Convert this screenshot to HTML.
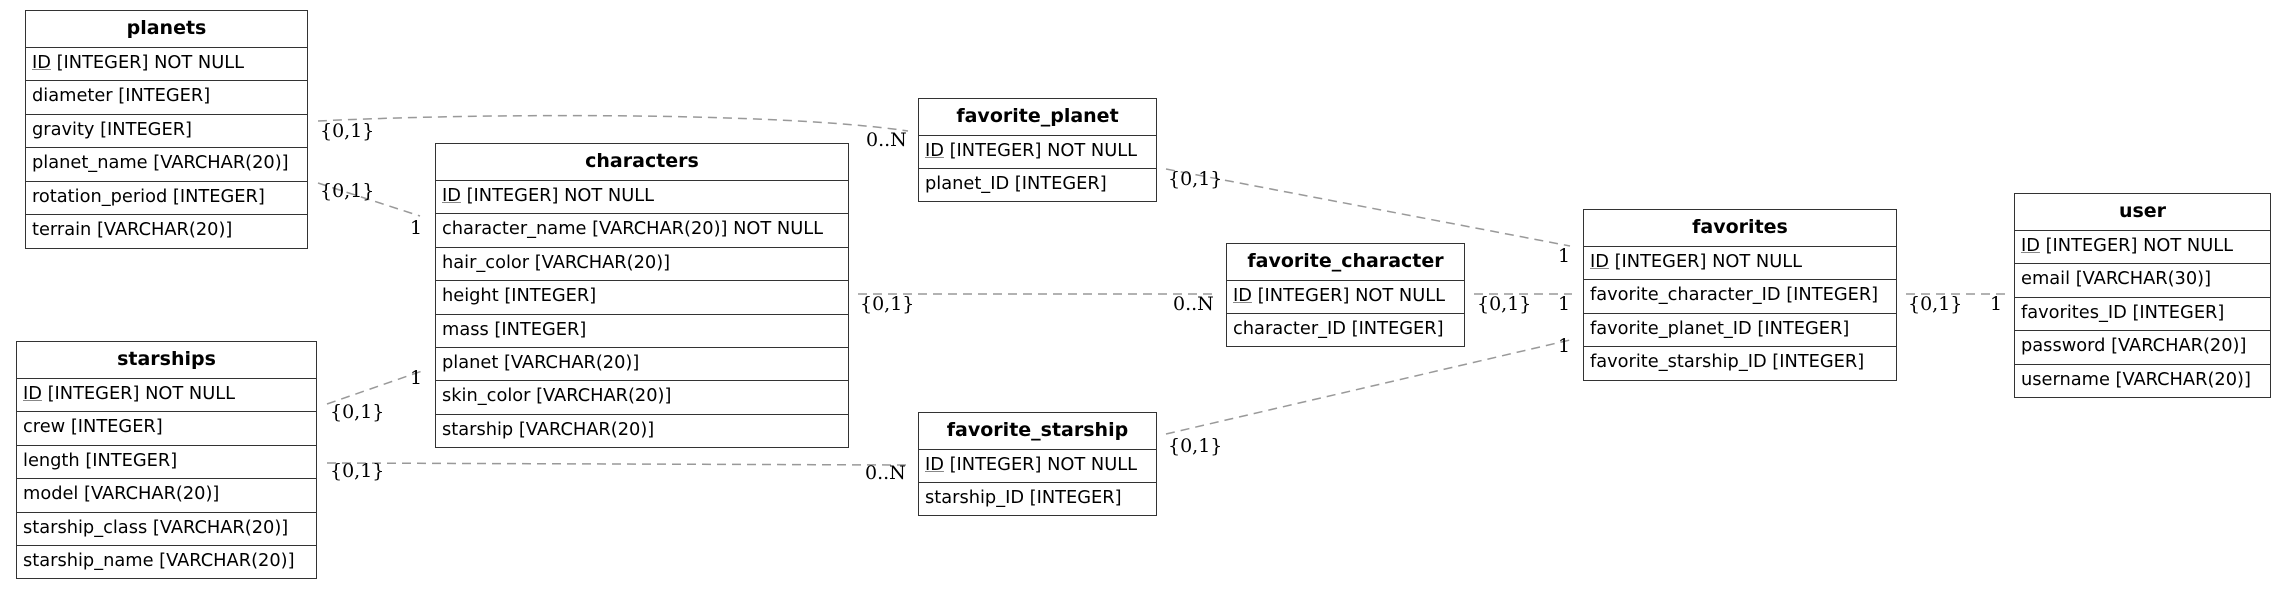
<!DOCTYPE html>
<html><head><meta charset="utf-8"><style>
body{margin:0;width:2287px;height:589px;background:#fff;position:relative;overflow:hidden;font-family:"DejaVu Sans","Liberation Sans",sans-serif;}
.t{position:absolute;border:1.5px solid #333;box-sizing:border-box;background:#fff;}
.h{height:37px;border-bottom:1.5px solid #333;box-sizing:border-box;font-weight:bold;font-size:19px;text-align:center;line-height:35px;color:#000;}
.r{height:33.4px;border-bottom:1.5px solid #333;box-sizing:border-box;font-size:17.8px;line-height:30px;padding-left:6px;white-space:nowrap;color:#000;}
.r:last-child{border-bottom:none;}
u{text-decoration-color:#888;}
svg{position:absolute;left:0;top:0;}
</style></head><body>
<svg width="2287" height="589">
<g stroke="#999" stroke-width="1.5" stroke-dasharray="9,6" fill="none">
<path d="M318,121 C480,113 780,112 908,131"/>
<path d="M318,183 L420,216"/>
<path d="M327,404 L425,370"/>
<path d="M327,463 L906,465"/>
<path d="M858,294 L1216,294"/>
<path d="M1166,169 L1570,246"/>
<path d="M1474,294 L1572,294"/>
<path d="M1166,434 L1570,340"/>
<path d="M1906,294 L2006,294"/>
</g>
<g font-family="DejaVu Serif, Liberation Serif, serif" font-size="19" fill="#000">
<text x="320" y="137">{0,1}</text><text x="866" y="146">0..N</text>
<text x="320" y="197">{0,1}</text><text x="410" y="234">1</text>
<text x="410" y="384">1</text><text x="330" y="418">{0,1}</text>
<text x="330" y="477">{0,1}</text><text x="865" y="479">0..N</text>
<text x="860" y="310">{0,1}</text><text x="1173" y="310">0..N</text>
<text x="1168" y="185">{0,1}</text><text x="1558" y="262">1</text>
<text x="1477" y="310">{0,1}</text><text x="1558" y="310">1</text>
<text x="1168" y="452">{0,1}</text><text x="1558" y="352">1</text>
<text x="1908" y="310">{0,1}</text><text x="1990" y="310">1</text>
</g>
</svg>
<div class="t" style="left:25px;top:10px;width:283px;height:239px">
<div class="h">planets</div>
<div class="r"><u>ID</u> [INTEGER] NOT NULL</div>
<div class="r">diameter [INTEGER]</div>
<div class="r">gravity [INTEGER]</div>
<div class="r">planet_name [VARCHAR(20)]</div>
<div class="r">rotation_period [INTEGER]</div>
<div class="r">terrain [VARCHAR(20)]</div>
</div>
<div class="t" style="left:435px;top:143px;width:414px;height:305px">
<div class="h">characters</div>
<div class="r"><u>ID</u> [INTEGER] NOT NULL</div>
<div class="r">character_name [VARCHAR(20)] NOT NULL</div>
<div class="r">hair_color [VARCHAR(20)]</div>
<div class="r">height [INTEGER]</div>
<div class="r">mass [INTEGER]</div>
<div class="r">planet [VARCHAR(20)]</div>
<div class="r">skin_color [VARCHAR(20)]</div>
<div class="r">starship [VARCHAR(20)]</div>
</div>
<div class="t" style="left:16px;top:341px;width:301px;height:238px">
<div class="h">starships</div>
<div class="r"><u>ID</u> [INTEGER] NOT NULL</div>
<div class="r">crew [INTEGER]</div>
<div class="r">length [INTEGER]</div>
<div class="r">model [VARCHAR(20)]</div>
<div class="r">starship_class [VARCHAR(20)]</div>
<div class="r">starship_name [VARCHAR(20)]</div>
</div>
<div class="t" style="left:918px;top:98px;width:239px;height:104px">
<div class="h">favorite_planet</div>
<div class="r"><u>ID</u> [INTEGER] NOT NULL</div>
<div class="r">planet_ID [INTEGER]</div>
</div>
<div class="t" style="left:1226px;top:243px;width:239px;height:104px">
<div class="h">favorite_character</div>
<div class="r"><u>ID</u> [INTEGER] NOT NULL</div>
<div class="r">character_ID [INTEGER]</div>
</div>
<div class="t" style="left:918px;top:412px;width:239px;height:104px">
<div class="h">favorite_starship</div>
<div class="r"><u>ID</u> [INTEGER] NOT NULL</div>
<div class="r">starship_ID [INTEGER]</div>
</div>
<div class="t" style="left:1583px;top:209px;width:314px;height:172px">
<div class="h">favorites</div>
<div class="r"><u>ID</u> [INTEGER] NOT NULL</div>
<div class="r">favorite_character_ID [INTEGER]</div>
<div class="r">favorite_planet_ID [INTEGER]</div>
<div class="r">favorite_starship_ID [INTEGER]</div>
</div>
<div class="t" style="left:2014px;top:193px;width:257px;height:205px">
<div class="h">user</div>
<div class="r"><u>ID</u> [INTEGER] NOT NULL</div>
<div class="r">email [VARCHAR(30)]</div>
<div class="r">favorites_ID [INTEGER]</div>
<div class="r">password [VARCHAR(20)]</div>
<div class="r">username [VARCHAR(20)]</div>
</div>
</body></html>
